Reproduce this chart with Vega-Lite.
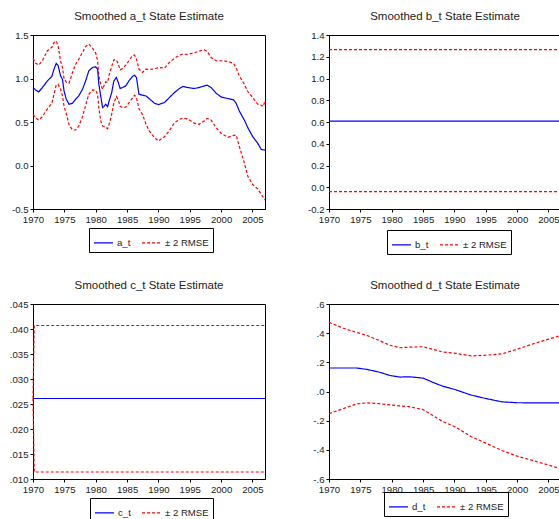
{
  "$schema": "https://vega.github.io/schema/vega-lite/v6.json",
  "background": "white",
  "padding": {"left": 8, "top": 10, "right": 0, "bottom": 0},
  "columns": 2,
  "bounds": "flush",
  "spacing": {"row": 95, "column": 64},
  "resolve": {
    "scale": {"color": "independent", "strokeDash": "independent"},
    "legend": {"color": "independent", "strokeDash": "independent"}
  },
  "config": {
    "font": "Liberation Sans",
    "view": {"stroke": "black", "strokeWidth": 1},
    "axis": {"grid": false, "domainColor": "black", "tickColor": "black", "tickSize": 3, "labelFontSize": 9.6, "labelColor": "#222222", "labelFont": "Liberation Sans", "labelPadding": 2, "labelOverlap": false, "title": null},
    "axisX": {"values": [1970,1971,1972,1973,1974,1975,1976,1977,1978,1979,1980,1981,1982,1983,1984,1985,1986,1987,1988,1989,1990,1991,1992,1993,1994,1995,1996,1997,1998,1999,2000,2001,2002,2003,2004,2005,2006,2007], "labelExpr": "datum.value % 5 === 0 ? datum.label : ''", "format": "d", "labelFlush": false},
    "title": {"fontSize": 11.5, "fontWeight": "normal", "color": "#222222", "font": "Liberation Sans", "offset": 8, "baseline": "alphabetic", "anchor": "middle"},
    "legend": {"orient": "none", "direction": "horizontal", "strokeColor": "black", "fillColor": "white", "padding": 4, "symbolType": "stroke", "symbolSize": 360, "symbolStrokeWidth": 1.3, "labelFontSize": 9.6, "labelColor": "#222222", "labelFont": "Liberation Sans", "columnPadding": 8, "labelOffset": 3},
    "line": {"strokeWidth": 1.2}
  },
  "concat": [
    {
      "width": 232, "height": 174,
      "title": "Smoothed a_t State Estimate",
      "data": {"values": [
        {"t":1970.0,"m":0.896,"u":1.231,"l":0.588},
        {"t":1970.4,"m":0.869,"u":1.177,"l":0.55},
        {"t":1970.9,"m":0.846,"u":1.154,"l":0.523},
        {"t":1971.5,"m":0.896,"u":1.204,"l":0.562},
        {"t":1972.3,"m":0.973,"u":1.32,"l":0.65},
        {"t":1973.0,"m":1.023,"u":1.358,"l":0.715},
        {"t":1973.35,"m":1.108,"u":1.415,"l":0.819},
        {"t":1973.7,"m":1.173,"u":1.431,"l":0.923},
        {"t":1974.0,"m":1.15,"u":1.377,"l":0.935},
        {"t":1974.4,"m":1.03,"u":1.2,"l":0.877},
        {"t":1974.7,"m":0.99,"u":1.127,"l":0.8},
        {"t":1974.95,"m":0.858,"u":1.0,"l":0.68},
        {"t":1975.3,"m":0.762,"u":0.96,"l":0.6},
        {"t":1975.75,"m":0.704,"u":0.945,"l":0.47},
        {"t":1976.3,"m":0.715,"u":1.069,"l":0.408},
        {"t":1976.8,"m":0.762,"u":1.165,"l":0.408},
        {"t":1977.3,"m":0.8,"u":1.223,"l":0.454},
        {"t":1977.9,"m":0.877,"u":1.3,"l":0.562},
        {"t":1978.4,"m":0.973,"u":1.369,"l":0.692},
        {"t":1978.9,"m":1.088,"u":1.396,"l":0.819},
        {"t":1979.5,"m":1.127,"u":1.35,"l":0.869},
        {"t":1980.0,"m":1.135,"u":1.292,"l":0.865},
        {"t":1980.3,"m":1.108,"u":1.204,"l":0.819},
        {"t":1980.5,"m":0.935,"u":1.031,"l":0.665},
        {"t":1980.8,"m":0.8,"u":0.935,"l":0.512},
        {"t":1981.1,"m":0.665,"u":0.877,"l":0.454},
        {"t":1981.3,"m":0.677,"u":0.915,"l":0.45},
        {"t":1981.6,"m":0.704,"u":0.962,"l":0.44},
        {"t":1981.9,"m":0.677,"u":0.954,"l":0.423},
        {"t":1982.1,"m":0.731,"u":1.031,"l":0.462},
        {"t":1982.55,"m":0.838,"u":1.138,"l":0.588},
        {"t":1982.9,"m":0.973,"u":1.215,"l":0.723},
        {"t":1983.3,"m":1.012,"u":1.215,"l":0.792},
        {"t":1983.6,"m":0.954,"u":1.165,"l":0.754},
        {"t":1983.9,"m":0.885,"u":1.1,"l":0.68},
        {"t":1984.3,"m":0.896,"u":1.115,"l":0.665},
        {"t":1984.8,"m":0.915,"u":1.154,"l":0.67},
        {"t":1985.3,"m":0.973,"u":1.204,"l":0.72},
        {"t":1985.85,"m":1.023,"u":1.262,"l":0.775},
        {"t":1986.2,"m":1.038,"u":1.269,"l":0.808},
        {"t":1986.5,"m":1.012,"u":1.223,"l":0.781},
        {"t":1986.9,"m":0.819,"u":1.108,"l":0.654},
        {"t":1987.45,"m":0.808,"u":1.069,"l":0.588},
        {"t":1988.0,"m":0.8,"u":1.108,"l":0.48},
        {"t":1988.5,"m":0.77,"u":1.105,"l":0.4},
        {"t":1989.4,"m":0.715,"u":1.11,"l":0.319},
        {"t":1990.0,"m":0.7,"u":1.127,"l":0.281},
        {"t":1990.96,"m":0.723,"u":1.119,"l":0.33},
        {"t":1991.75,"m":0.781,"u":1.185,"l":0.4},
        {"t":1992.55,"m":0.838,"u":1.231,"l":0.49},
        {"t":1993.35,"m":0.885,"u":1.269,"l":0.53},
        {"t":1993.9,"m":0.908,"u":1.28,"l":0.545},
        {"t":1994.7,"m":0.896,"u":1.277,"l":0.535},
        {"t":1995.7,"m":0.885,"u":1.295,"l":0.487},
        {"t":1996.5,"m":0.896,"u":1.315,"l":0.473},
        {"t":1997.3,"m":0.915,"u":1.331,"l":0.512},
        {"t":1997.8,"m":0.923,"u":1.31,"l":0.542},
        {"t":1998.4,"m":0.896,"u":1.242,"l":0.523},
        {"t":1999.2,"m":0.831,"u":1.204,"l":0.435},
        {"t":2000.0,"m":0.788,"u":1.204,"l":0.369},
        {"t":2001.1,"m":0.769,"u":1.195,"l":0.325},
        {"t":2002.0,"m":0.754,"u":1.173,"l":0.346},
        {"t":2002.4,"m":0.715,"u":1.12,"l":0.35},
        {"t":2002.9,"m":0.627,"u":1.03,"l":0.22},
        {"t":2003.7,"m":0.523,"u":0.935,"l":0.031},
        {"t":2004.26,"m":0.435,"u":0.85,"l":-0.123},
        {"t":2005.05,"m":0.331,"u":0.78,"l":-0.22},
        {"t":2005.85,"m":0.254,"u":0.704,"l":-0.27},
        {"t":2006.4,"m":0.185,"u":0.692,"l":-0.33},
        {"t":2006.75,"m":0.18,"u":0.677,"l":-0.37},
        {"t":2007.0,"m":0.177,"u":0.75,"l":-0.4}
      ]},
      "transform": [{"fold": ["u", "l", "m"], "as": ["s", "v"]}],
      "mark": {"type": "line"},
      "encoding": {
        "x": {"field": "t", "type": "quantitative", "scale": {"domain": [1970, 2007], "nice": false, "zero": false}},
        "y": {"field": "v", "type": "quantitative", "scale": {"domain": [-0.5, 1.5], "nice": false, "zero": false}, "axis": {"values": [-0.5, 0, 0.5, 1, 1.5], "labelExpr": "replace(format(datum.value, '.1f'), '−', '-')"}},
        "color": {"field": "s", "type": "nominal", "scale": {"domain": ["m", "u", "l"], "range": ["#0000ff", "#ff0000", "#ff0000"]}, "legend": {"title": null, "values": ["m", "u"], "labelExpr": "datum.label == 'm' ? 'a_t' : '± 2 RMSE'", "legendX": 56, "legendY": 193}},
        "strokeDash": {"field": "s", "type": "nominal", "scale": {"domain": ["m", "u", "l"], "range": [[1, 0], [3, 2], [3, 2]]}, "legend": {"title": null, "values": ["m", "u"], "labelExpr": "datum.label == 'm' ? 'a_t' : '± 2 RMSE'", "legendX": 56, "legendY": 193}}
      }
    },
    {
      "width": 232, "height": 174,
      "title": "Smoothed b_t State Estimate",
      "data": {"values": [
        {"t":1970,"m":0.608,"u":1.265,"l":-0.04},
        {"t":2007,"m":0.608,"u":1.265,"l":-0.04}
      ]},
      "transform": [{"fold": ["u", "l", "m"], "as": ["s", "v"]}],
      "mark": {"type": "line"},
      "encoding": {
        "x": {"field": "t", "type": "quantitative", "scale": {"domain": [1970, 2007], "nice": false, "zero": false}},
        "y": {"field": "v", "type": "quantitative", "scale": {"domain": [-0.2, 1.4], "nice": false, "zero": false}, "axis": {"values": [-0.2, 0, 0.2, 0.4, 0.6, 0.8, 1.0, 1.2, 1.4], "labelExpr": "replace(format(datum.value, '.1f'), '−', '-')"}},
        "color": {"field": "s", "type": "nominal", "scale": {"domain": ["m", "u", "l"], "range": ["#0000ff", "#ff0000", "#ff0000"]}, "legend": {"title": null, "values": ["m", "u"], "labelExpr": "datum.label == 'm' ? 'b_t' : '± 2 RMSE'", "legendX": 58, "legendY": 195}},
        "strokeDash": {"field": "s", "type": "nominal", "scale": {"domain": ["m", "u", "l"], "range": [[1, 0], [3, 2], [3, 2]]}, "legend": {"title": null, "values": ["m", "u"], "labelExpr": "datum.label == 'm' ? 'b_t' : '± 2 RMSE'", "legendX": 58, "legendY": 195}}
      }
    },
    {
      "width": 232, "height": 175,
      "title": "Smoothed c_t State Estimate",
      "data": {"values": [
        {"t":1970,"m":0.0261,"u":0.0261,"l":0.0261},
        {"t":1970.2,"m":0.0261,"u":0.0407,"l":0.0114},
        {"t":2007,"m":0.0261,"u":0.0407,"l":0.0114}
      ]},
      "transform": [{"fold": ["u", "l", "m"], "as": ["s", "v"]}],
      "mark": {"type": "line"},
      "encoding": {
        "x": {"field": "t", "type": "quantitative", "scale": {"domain": [1970, 2007], "nice": false, "zero": false}},
        "y": {"field": "v", "type": "quantitative", "scale": {"domain": [0.01, 0.045], "nice": false, "zero": false}, "axis": {"values": [0.01, 0.015, 0.02, 0.025, 0.03, 0.035, 0.04, 0.045], "labelExpr": "replace(format(datum.value, '.3f'), '0.', '.')"}},
        "color": {"field": "s", "type": "nominal", "scale": {"domain": ["m", "u", "l"], "range": ["#0000ff", "#ff0000", "#ff0000"]}, "legend": {"title": null, "values": ["m", "u"], "labelExpr": "datum.label == 'm' ? 'c_t' : '± 2 RMSE'", "legendX": 57, "legendY": 194}},
        "strokeDash": {"field": "s", "type": "nominal", "scale": {"domain": ["m", "u", "l"], "range": [[1, 0], [3, 2], [3, 2]]}, "legend": {"title": null, "values": ["m", "u"], "labelExpr": "datum.label == 'm' ? 'c_t' : '± 2 RMSE'", "legendX": 57, "legendY": 194}}
      }
    },
    {
      "width": 232, "height": 175,
      "title": "Smoothed d_t State Estimate",
      "data": {"values": [
        {"t":1970,"m":0.161,"u":0.474,"l":-0.152},
        {"t":1972.3,"m":0.161,"u":0.434,"l":-0.117},
        {"t":1974.4,"m":0.161,"u":0.405,"l":-0.085},
        {"t":1976,"m":0.152,"u":0.385,"l":-0.078},
        {"t":1978,"m":0.133,"u":0.35,"l":-0.083},
        {"t":1979.7,"m":0.11,"u":0.317,"l":-0.092},
        {"t":1981.3,"m":0.099,"u":0.3,"l":-0.099},
        {"t":1982.8,"m":0.101,"u":0.304,"l":-0.104},
        {"t":1985,"m":0.092,"u":0.307,"l":-0.124},
        {"t":1986.5,"m":0.064,"u":0.29,"l":-0.163},
        {"t":1988.1,"m":0.037,"u":0.271,"l":-0.205},
        {"t":1990.2,"m":0.012,"u":0.262,"l":-0.244},
        {"t":1992.7,"m":-0.025,"u":0.244,"l":-0.31},
        {"t":1995,"m":-0.048,"u":0.249,"l":-0.354},
        {"t":1997.6,"m":-0.071,"u":0.258,"l":-0.405},
        {"t":2000,"m":-0.077,"u":0.29,"l":-0.443},
        {"t":2002.8,"m":-0.078,"u":0.33,"l":-0.477},
        {"t":2005,"m":-0.078,"u":0.359,"l":-0.504},
        {"t":2007,"m":-0.078,"u":0.384,"l":-0.53}
      ]},
      "transform": [{"fold": ["u", "l", "m"], "as": ["s", "v"]}],
      "mark": {"type": "line"},
      "encoding": {
        "x": {"field": "t", "type": "quantitative", "scale": {"domain": [1970, 2007], "nice": false, "zero": false}},
        "y": {"field": "v", "type": "quantitative", "scale": {"domain": [-0.6, 0.6], "nice": false, "zero": false}, "axis": {"values": [-0.6, -0.4, -0.2, 0, 0.2, 0.4, 0.6], "labelExpr": "replace(replace(format(datum.value, '.1f'), '−', '-'), '0.', '.')"}},
        "color": {"field": "s", "type": "nominal", "scale": {"domain": ["m", "u", "l"], "range": ["#0000ff", "#ff0000", "#ff0000"]}, "legend": {"title": null, "values": ["m", "u"], "labelExpr": "datum.label == 'm' ? 'd_t' : '± 2 RMSE'", "legendX": 55, "legendY": 188}},
        "strokeDash": {"field": "s", "type": "nominal", "scale": {"domain": ["m", "u", "l"], "range": [[1, 0], [3, 2], [3, 2]]}, "legend": {"title": null, "values": ["m", "u"], "labelExpr": "datum.label == 'm' ? 'd_t' : '± 2 RMSE'", "legendX": 55, "legendY": 188}}
      }
    }
  ]
}
